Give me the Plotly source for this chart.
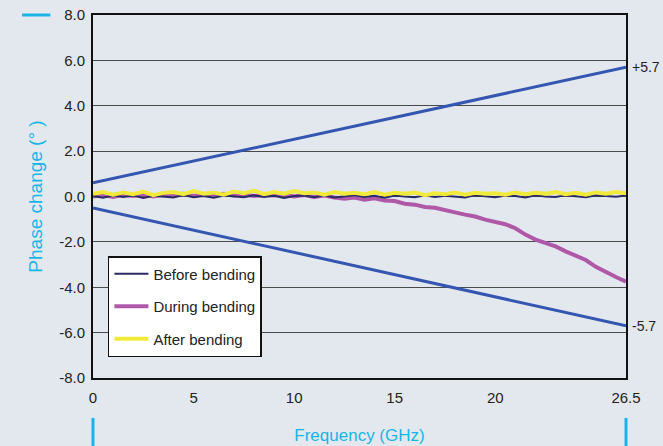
import plotly.graph_objects as go

freq = [0.0, 0.5, 1.0, 1.5, 2.0, 2.5, 3.0, 3.5, 4.0, 4.5, 5.0, 5.5, 6.0, 6.5, 7.0, 7.5, 8.0, 8.5,
        9.0, 9.5, 10.0, 10.5, 11.0, 11.5, 12.0, 12.5, 13.0, 13.5, 14.0, 14.5, 15.0, 15.5, 16.0, 16.5,
        17.0, 17.5, 18.0, 18.5, 19.0, 19.5, 20.0, 20.5, 21.0, 21.5, 22.0, 22.5, 23.0, 23.5, 24.0, 24.5,
        25.0, 25.5, 26.0, 26.5]

before = [0.02, -0.05, 0.05, -0.02, 0.04, -0.06, 0.03, 0.0, -0.04, 0.06, -0.03, 0.02, -0.05, 0.04,
          0.0, -0.03, 0.05, -0.02, 0.03, -0.06, 0.02, 0.04, -0.03, 0.05, -0.04, 0.01, 0.06, -0.02,
          0.03, -0.05, 0.04, 0.0, -0.03, 0.05, -0.02, 0.03, 0.0, -0.04, 0.06, 0.01, -0.03, 0.04,
          0.02, -0.04, 0.05, 0.0, -0.02, 0.06, 0.01, -0.03, 0.05, 0.02, -0.01, 0.04]

during = [0.0, 0.06, -0.02, 0.08, 0.02, 0.1, 0.0, 0.08, 0.04, 0.12, 0.02, 0.1, 0.06, 0.12,
          0.04, 0.1, 0.02, 0.08, 0.04, 0.1, 0.0, 0.06, -0.02, 0.04, -0.04, -0.1, -0.05, -0.14,
          -0.08, -0.18, -0.2, -0.32, -0.36, -0.46, -0.5, -0.62, -0.7, -0.8, -0.88, -1.02, -1.1, -1.22,
          -1.4, -1.68, -1.9, -2.05, -2.2, -2.42, -2.6, -2.8, -3.1, -3.35, -3.55, -3.75]

after = [0.12, 0.2, 0.08, 0.18, 0.1, 0.22, 0.06, 0.16, 0.2, 0.1, 0.24, 0.12, 0.18, 0.08,
         0.22, 0.14, 0.26, 0.1, 0.2, 0.12, 0.24, 0.14, 0.18, 0.08, 0.2, 0.12, 0.16, 0.1,
         0.2, 0.08, 0.16, 0.12, 0.18, 0.06, 0.14, 0.1, 0.18, 0.08, 0.16, 0.12, 0.14, 0.08,
         0.18, 0.1, 0.16, 0.12, 0.2, 0.1, 0.16, 0.08, 0.18, 0.12, 0.2, 0.14]

limit_x = [0, 26.5]
upper_limit = [0.6, 5.7]
lower_limit = [-0.5, -5.7]

x_ticks = [0, 5, 10, 15, 20, 26.5]
x_tick_labels = ["0", "5", "10", "15", "20", "26.5"]
y_ticks = [-8, -6, -4, -2, 0, 2, 4, 6, 8]
y_tick_labels = ["-8.0", "-6.0", "-4.0", "-2.0", "0.0", "2.0", "4.0", "6.0", "8.0"]

FONT = "Liberation Sans, Arial, sans-serif"
CYAN = "#1ab4e8"
BLUE = "#3556b0"

fig = go.Figure()
fig.add_trace(go.Scatter(x=limit_x, y=upper_limit, mode="lines", line=dict(color=BLUE, width=3),
                         showlegend=False, hoverinfo="skip"))
fig.add_trace(go.Scatter(x=limit_x, y=lower_limit, mode="lines", line=dict(color=BLUE, width=3),
                         showlegend=False, hoverinfo="skip"))
fig.add_trace(go.Scatter(x=freq, y=during, mode="lines", name="During bending",
                         line=dict(color="#b058a8", width=4), legendgroup="b", legendrank=2))
fig.add_trace(go.Scatter(x=freq, y=before, mode="lines", name="Before bending",
                         line=dict(color="#2a2a66", width=2), legendgroup="a", legendrank=1))
fig.add_trace(go.Scatter(x=freq, y=after, mode="lines", name="After bending",
                         line=dict(color="#f2ea3a", width=4), legendgroup="c", legendrank=3))

fig.add_annotation(x=26.5, y=5.7, xref="x", yref="y", text="+5.7", showarrow=False,
                   xanchor="left", xshift=4, font=dict(size=14, color="#222", family=FONT))
fig.add_annotation(x=26.5, y=-5.7, xref="x", yref="y", text="-5.7", showarrow=False,
                   xanchor="left", xshift=4, font=dict(size=14, color="#222", family=FONT))

# decorative cyan markers
fig.add_shape(type="line", xref="paper", yref="paper", x0=-0.133, x1=-0.08, y0=1.0, y1=1.0,
              line=dict(color=CYAN, width=3))
fig.add_shape(type="line", xref="paper", yref="paper", x0=0, x1=0, y0=-0.11, y1=-0.19,
              line=dict(color=CYAN, width=3))
fig.add_shape(type="line", xref="paper", yref="paper", x0=1, x1=1, y0=-0.11, y1=-0.19,
              line=dict(color=CYAN, width=3))

fig.update_layout(
    width=663, height=446,
    margin=dict(l=93, r=37, t=15, b=68, autoexpand=False),
    paper_bgcolor="#e3e8ef",
    plot_bgcolor="#e3e8ef",
    font=dict(family=FONT, size=15, color="#222"),
    legend=dict(x=0.028, y=0.336, xanchor="left", yanchor="top",
                bgcolor="white", bordercolor="#111", borderwidth=1.5,
                font=dict(size=15, color="#222", family=FONT),
                tracegroupgap=10, traceorder="grouped", itemwidth=34),
    xaxis=dict(range=[0, 26.5], tickvals=x_ticks, ticktext=x_tick_labels, automargin=False,
               showgrid=False, zeroline=False, showline=True, linecolor="#111", linewidth=2,
               mirror=True, ticks="", ticklen=0, ticklabelstandoff=5,
               tickfont=dict(size=15, color="#222"),
               title=dict(text="Frequency (GHz)", font=dict(size=17, color=CYAN), standoff=24)),
    yaxis=dict(range=[-8, 8], tickvals=y_ticks, ticktext=y_tick_labels, automargin=False,
               showgrid=True, gridcolor="#4a4a4a", gridwidth=1.2, zeroline=False,
               showline=True, linecolor="#111", linewidth=2, mirror=True,
               ticks="", ticklabelstandoff=3, tickfont=dict(size=15, color="#222"),
               title=dict(text="Phase change (° )", font=dict(size=19, color=CYAN), standoff=11)),
)

fig.write_html("out.html")
